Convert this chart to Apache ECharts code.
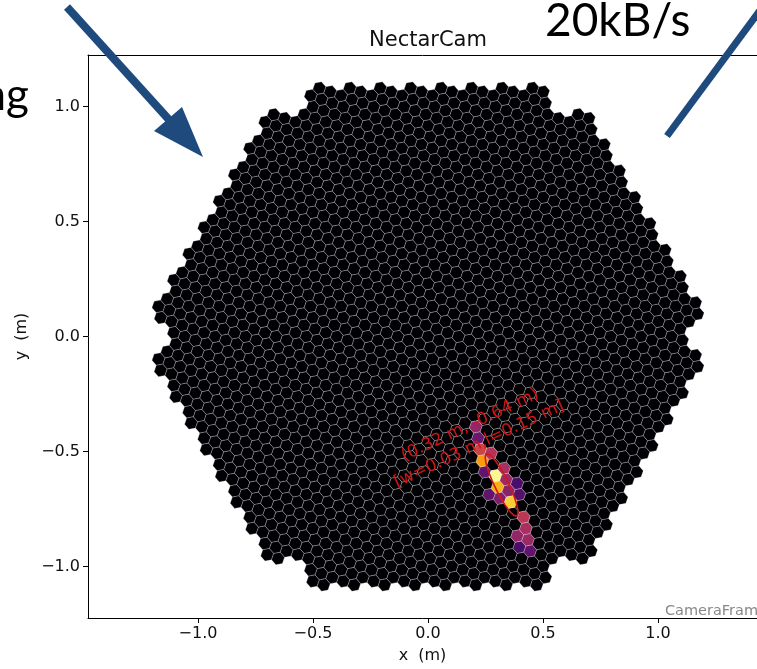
<!DOCTYPE html>
<html><head><meta charset="utf-8">
<script src="https://cdn.jsdelivr.net/npm/echarts@6/dist/echarts.min.js"></script>
<style>html,body{margin:0;padding:0;background:#fff}#c{width:757px;height:669px}</style>
</head><body><div id="c"></div>
<script>
// ---- camera geometry parameters (NectarCam: 265 seven-pixel modules) ----
const pixelPitch = 0.05;        // m, flat-to-flat pixel pitch
const moduleRings = 9;          // hexagonal rings of modules, 6 corner modules removed

// ---- signal pixels (x, y in m) and normalised charge ----
const signalX = [0.204, 0.217, 0.230, 0.278, 0.239, 0.335, 0.248, 0.296, 0.343, 0.387, 0.304,
                 0.265, 0.348, 0.400, 0.313, 0.357, 0.422, 0.430, 0.387, 0.443, 0.400, 0.448];
const signalY = [-0.390, -0.433, -0.485, -0.502, -0.537, -0.567, -0.584, -0.606, -0.619, -0.632, -0.654,
                 -0.684, -0.662, -0.688, -0.706, -0.719, -0.779, -0.827, -0.866, -0.879, -0.913, -0.935];
const signalValue = [0.40, 0.30, 0.55, 0.48, 0.78, 0.45, 0.28, 0.98, 0.42, 0.22, 0.82,
                     0.28, 0.38, 0.25, 0.35, 0.88, 0.50, 0.45, 0.40, 0.42, 0.22, 0.28];

// ---- Hillas parameters ----
const hillasCenter = [0.32, -0.645];
const hillasLength = 0.15;
const hillasWidth = 0.03;
const hillasPsiDeg = -64;
const hillasLabel = ['(0.32 m, -0.64 m)', '[w=0.03 m,l=0.15 m]'];

// ---- axes ----
const xTicks = [-1.0, -0.5, 0.0, 0.5, 1.0];
const yTicks = [-1.0, -0.5, 0.0, 0.5, 1.0];
const xRange = [-1.478, 1.430];
const yRange = [-1.224, 1.224];

const infernoColors = ['#000004', '#160b39', '#420a68', '#6a176e', '#932667', '#bc3754',
                       '#dd513a', '#f37819', '#fca50a', '#f6d746', '#fcffa4'];

// ---- build pixel list from module lattice ----
const D = pixelPitch * Math.sqrt(7);
const alpha = Math.atan2(Math.sqrt(3) / 2, 2.5);
const vec = a => [pixelPitch * Math.cos(a), pixelPitch * Math.sin(a)];
const u = vec(-alpha), v = vec(Math.PI / 3 - alpha);
const w = [v[0] - u[0], v[1] - u[1]];
const offs = [[0, 0], u, [-u[0], -u[1]], v, [-v[0], -v[1]], w, [-w[0], -w[1]]];
const pixels = [];
for (let p = -moduleRings; p <= moduleRings; p++) {
  for (let q = -moduleRings; q <= moduleRings; q++) {
    const m = [Math.abs(p), Math.abs(q), Math.abs(p + q)];
    if (Math.max(...m) > moduleRings) continue;
    if (m.filter(k => k === moduleRings).length >= 2) continue;
    const cx = p * D + q * D / 2, cy = q * D * Math.sqrt(3) / 2;
    offs.forEach(o => pixels.push([cx + o[0], cy + o[1], 0]));
  }
}
signalX.forEach((sx, i) => {
  let best = 0, bd = 1e9;
  pixels.forEach((px, j) => {
    const d = (px[0] - sx) ** 2 + (px[1] - signalY[i]) ** 2;
    if (d < bd) { bd = d; best = j; }
  });
  pixels[best][2] = Math.max(pixels[best][2], signalValue[i]);
});

const hexR = pixelPitch / Math.sqrt(3);
const hexRot = Math.PI / 6 - alpha;
const minus = s => s.replace('-', '\u2212');
const FONT = 'DejaVu Sans';
const axisCommon = {
  axisLine: {show: true, onZero: false, lineStyle: {color: '#000', width: 1}},
  splitLine: {show: false}
};

const chart = echarts.init(document.getElementById('c'), null, {renderer: 'canvas'});
chart.setOption({
  animation: false,
  backgroundColor: '#fff',
  grid: {left: 88, top: 55, right: 0, bottom: 51, show: false},
  xAxis: [{
    type: 'value', min: xRange[0], max: xRange[1], position: 'bottom',
    name: 'x  (m)', nameLocation: 'middle', nameGap: 30,
    nameTextStyle: {fontFamily: FONT, fontSize: 16, color: '#111'},
    ...axisCommon,
    axisTick: {show: true, customValues: xTicks, length: 5, lineStyle: {color: '#000'}},
    axisLabel: {customValues: xTicks, margin: 8, fontFamily: FONT, fontSize: 16, color: '#111',
                formatter: val => minus(val.toFixed(1))}
  }, {
    type: 'value', min: xRange[0], max: xRange[1], position: 'top',
    ...axisCommon,
    axisTick: {show: false}, axisLabel: {show: false}
  }],
  yAxis: {
    type: 'value', min: yRange[0], max: yRange[1],
    name: 'y  (m)', nameLocation: 'middle', nameGap: 58,
    nameTextStyle: {fontFamily: FONT, fontSize: 16, color: '#111'},
    ...axisCommon,
    axisTick: {show: true, customValues: yTicks, length: 5, lineStyle: {color: '#000'}},
    axisLabel: {customValues: yTicks, margin: 8, fontFamily: FONT, fontSize: 16, color: '#111',
                formatter: val => minus(val.toFixed(1))}
  },
  visualMap: {show: false, type: 'continuous', min: 0, max: 1, dimension: 2, seriesIndex: 0,
              inRange: {color: infernoColors}},
  series: [
    {
      type: 'custom', coordinateSystem: 'cartesian2d', progressive: 0, clip: true,
      data: pixels,
      renderItem: (params, api) => {
        const x = api.value(0), y = api.value(1);
        const pts = [];
        for (let k = 0; k < 6; k++) {
          const a = hexRot + k * Math.PI / 3;
          pts.push(api.coord([x + hexR * Math.cos(a), y + hexR * Math.sin(a)]));
        }
        return {type: 'polygon', shape: {points: pts},
                style: {fill: api.visual('color'), stroke: 'rgba(255,255,255,0.42)', lineWidth: 0.6}};
      }
    },
    {
      type: 'custom', coordinateSystem: 'cartesian2d', z: 5,
      data: [[hillasCenter[0], hillasCenter[1], hillasLength, hillasWidth, hillasPsiDeg]],
      renderItem: (params, api) => {
        const cx = api.value(0), cy = api.value(1), L = api.value(2), W = api.value(3);
        const psi = api.value(4) * Math.PI / 180;
        const pts = [];
        for (let i = 0; i < 72; i++) {
          const t = i / 72 * 2 * Math.PI;
          const lx = L * Math.cos(t), ly = W * Math.sin(t);
          pts.push(api.coord([cx + lx * Math.cos(psi) - ly * Math.sin(psi),
                              cy + lx * Math.sin(psi) + ly * Math.cos(psi)]));
        }
        const c = api.coord([cx, cy]);
        return {type: 'group', children: [
          {type: 'polygon', shape: {points: pts}, style: {fill: 'none', stroke: '#d01818', lineWidth: 1.6}},
          {type: 'text', x: c[0] - 27, y: c[1] - 50, rotation: 25 * Math.PI / 180,
           style: {text: hillasLabel.join('\n'), fill: '#d41414', font: '17px "DejaVu Sans"',
                   align: 'center', verticalAlign: 'middle', lineHeight: 21}}
        ]};
      }
    }
  ],
  graphic: [
    {type: 'text', x: 428, y: 41, style: {text: 'NectarCam', font: '21px "DejaVu Sans"', fill: '#111', align: 'center', verticalAlign: 'middle'}},
    {type: 'text', x: 767, y: 611, z: 10, style: {text: 'CameraFrame', font: '14.5px "DejaVu Sans"', fill: '#888', align: 'right', verticalAlign: 'middle'}},
    // slide overlay: arrows and partial text
    {type: 'line', z: 20, shape: {x1: 67, y1: 7, x2: 172, y2: 123}, style: {stroke: '#1f4a7e', lineWidth: 8}},
    {type: 'polygon', z: 20, shape: {points: [[203, 157], [154, 131], [182, 107]]}, style: {fill: '#1f4a7e'}},
    {type: 'line', z: 20, shape: {x1: 667, y1: 136, x2: 775, y2: -10}, style: {stroke: '#1f4a7e', lineWidth: 7}},
    {type: 'text', z: 20, x: 29, y: 74, style: {text: 'ng', font: '44px Lato', fill: '#000', align: 'right', verticalAlign: 'top'}},
    {type: 'text', z: 20, x: 545, y: -2, style: {text: '20kB/s', font: '46px Lato', fill: '#000', align: 'left', verticalAlign: 'top'}}
  ]
});
</script>
</body></html>
